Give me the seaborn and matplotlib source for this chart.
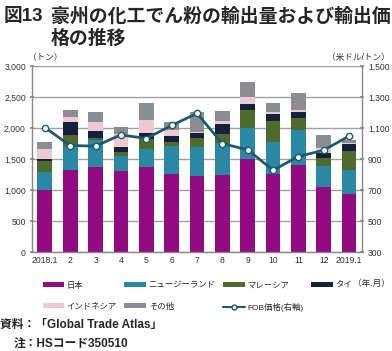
import numpy as np
import pandas as pd
import seaborn as sns
import matplotlib.pyplot as plt
from matplotlib.patches import Patch
from matplotlib.lines import Line2D
from matplotlib.ticker import FuncFormatter, MultipleLocator, FixedLocator

# データ（トン、米ドル/トン）
months = ['2018.1', '2', '3', '4', '5', '6', '7', '8', '9', '10', '11', '12', '2019.1']
japan = [1000, 1325, 1375, 1310, 1375, 1255, 1230, 1240, 1500, 1255, 1400, 1050, 935]
nz = [293, 372, 431, 237, 281, 452, 458, 522, 496, 517, 566, 340, 388]
malaysia = [172, 188, 38, 70, 166, 60, 145, 140, 296, 339, 199, 129, 311]
thai = [43, 215, 113, 81, 92, 102, 81, 162, 97, 113, 97, 81, 108]
indonesia = [146, 71, 145, 204, 215, 97, 27, 54, 108, 38, 27, 70, 21]
others = [113, 113, 151, 119, 280, 129, 312, 156, 237, 145, 269, 215, 43]
fob_price = [1103, 987, 983, 1056, 1032, 1117, 1194, 1000, 959, 828, 916, 957, 1048]
price_ticks = [300, 500, 700, 900, 1100, 1300, 1500]

series = ['日本', 'ニュージーランド', 'マレーシア', 'タイ', 'インドネシア', 'その他']
colors = ['#930b80', '#2b88a5', '#4f6a2d', '#15203b', '#ecc9d3', '#8b8d91']
line_color = '#1f5a6a'

sns.set_theme(style="white")
plt.rcParams['font.family'] = ['Liberation Sans', 'Noto Sans CJK JP', 'DejaVu Sans']
plt.rcParams['axes.unicode_minus'] = False

df = pd.DataFrame({'month': months, '日本': japan, 'ニュージーランド': nz,
                   'マレーシア': malaysia, 'タイ': thai,
                   'インドネシア': indonesia, 'その他': others})
cum = df[series].cumsum(axis=1)

fig = plt.figure(figsize=(3.92, 3.51), dpi=100)
ax = fig.add_axes([0.082, 0.282, 0.841, 0.530])

# 積み上げ棒（上の層から順に重ね描き）
for name, col in reversed(list(zip(series, colors))):
    sns.barplot(x=df['month'], y=cum[name], color=col, width=0.58,
                linewidth=0, saturation=1, ax=ax)

ax.set_ylim(0, 3000)
ax.set_xlim(-0.5, len(months) - 0.5)
ax.yaxis.set_major_locator(MultipleLocator(500))
ax.yaxis.set_major_formatter(FuncFormatter(lambda v, p: f'{int(v):,}'))
ax.grid(axis='y', color='#a0a0a0', linewidth=1.0)
ax.set_axisbelow(True)
ax.set_xlabel('')
ax.set_ylabel('')
ax.tick_params(axis='both', labelsize=6.2, colors='#333333', length=0, pad=3)
ax.set_xticks(np.arange(-0.5, len(months), 1), minor=True)
ax.tick_params(axis='x', which='minor', length=3, color='#888888', direction='out')
ax.tick_params(axis='y', length=3, color='#888888', direction='inout')
for s in ['left', 'right', 'bottom']:
    ax.spines[s].set_color('#888888')
    ax.spines[s].set_linewidth(1.0)
ax.spines['top'].set_visible(False)

# FOB価格（右軸）
ax2 = ax.twinx()
sns.lineplot(x=np.arange(len(months)), y=fob_price, ax=ax2, color=line_color,
             linewidth=2, marker='o', markersize=4.5, markerfacecolor='white',
             markeredgecolor=line_color, markeredgewidth=1.0)
ax2.set_ylim(300, 1500)
ax2.yaxis.set_major_locator(FixedLocator(price_ticks))
ax2.yaxis.set_major_formatter(FuncFormatter(lambda v, p: f'{int(v):,}'))
ax2.tick_params(axis='y', labelsize=6.2, colors='#333333', length=3,
                color='#888888', direction='inout', pad=3)
ax2.set_ylabel('')
for s in ['left', 'right', 'bottom', 'top']:
    ax2.spines[s].set_visible(False)

# タイトル・単位
fig.text(0.008, 0.978, '図13', fontsize=13.5, fontweight='bold', va='top')
fig.text(0.13, 0.978, '豪州の化工でん粉の輸出量および輸出価', fontsize=13.6,
         fontweight='bold', va='top')
fig.text(0.13, 0.915, '格の推移', fontsize=13.6, fontweight='bold', va='top')
fig.text(0.072, 0.835, '（トン）', fontsize=6.2, color='#333333', va='center')
fig.text(0.995, 0.835, '（米ドル/トン）', fontsize=6.2, color='#333333',
         va='center', ha='right')
fig.text(0.995, 0.193, '（年.月）', fontsize=6.2, color='#333333',
         va='center', ha='right')

# 凡例
h = {n: Patch(facecolor=c, edgecolor='none', label=n) for n, c in zip(series, colors)}
fob = Line2D([], [], color=line_color, linewidth=1.5, marker='o', markersize=3.5,
             markerfacecolor='white', markeredgecolor=line_color, label='FOB価格(右軸)')
handles = [h['日本'], h['インドネシア'], h['ニュージーランド'], h['その他'],
           h['マレーシア'], fob, h['タイ']]
fig.legend(handles=handles, loc='upper left', bbox_to_anchor=(0.1, 0.207),
           ncol=4, frameon=False, fontsize=6.0, handlelength=2.6,
           handleheight=0.55, handletextpad=0.3, columnspacing=0.9,
           labelspacing=1.55, borderaxespad=0)

# 資料・注
fig.text(0.0, 0.073, '資料：「Global Trade Atlas」', fontsize=8.5,
         fontweight='bold', va='center')
fig.text(0.035, 0.018, '注：HSコード350510', fontsize=8.5,
         fontweight='bold', va='center')

fig.savefig('out.png', dpi=100)
